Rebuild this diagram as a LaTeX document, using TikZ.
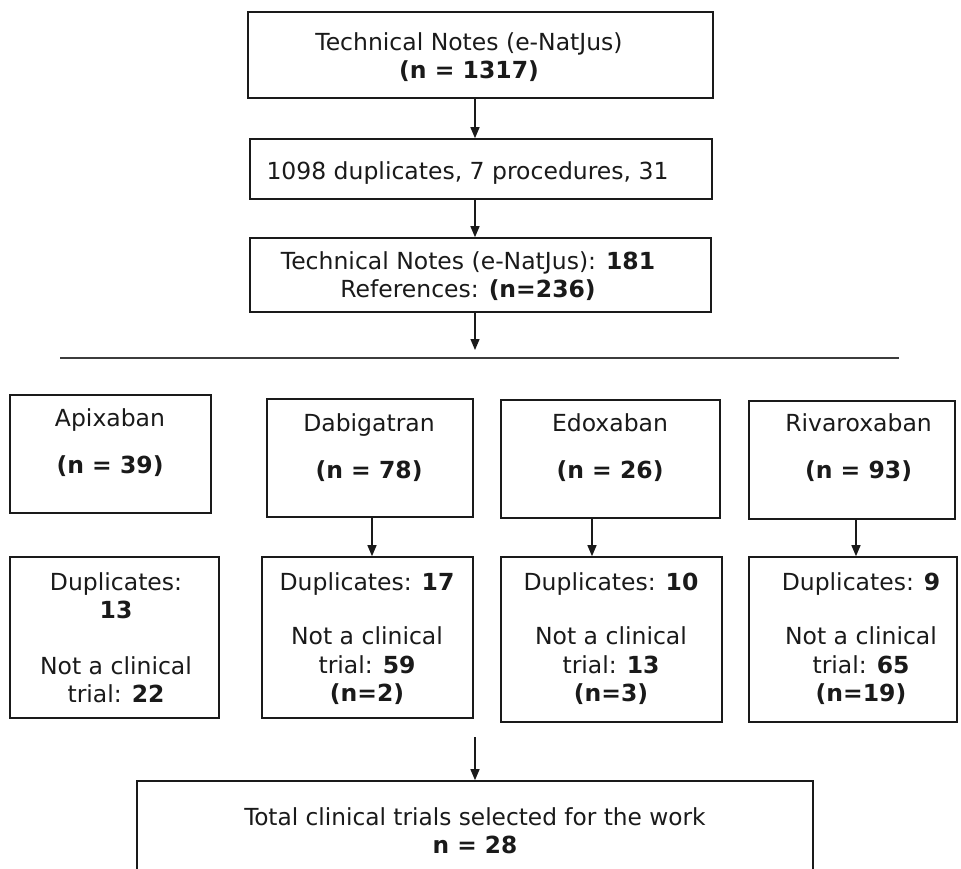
\documentclass[tikz,border=0pt]{standalone}
\usepackage{fontspec}
\setmainfont{DejaVu Sans}
\newfontfamily\condfont[FakeStretch=1.1]{DejaVu Sans Condensed}
\usetikzlibrary{arrows.meta}
\definecolor{ink}{HTML}{1A1A1A}
\tikzset{
  box/.style={draw=ink, line width=1.6pt, rectangle, inner sep=0pt},
  txt/.style={inner sep=0pt, anchor=north, align=center, text=ink,
    font=\fontsize{23.5}{28.5}\selectfont},
  cond/.style={inner sep=0pt, anchor=north, align=center, text=ink,
    font=\condfont\fontsize{23.5}{28}\selectfont},
  arr/.style={draw=ink, line width=1.3pt, -{Triangle[length=11pt,width=9pt]}},
  rule/.style={draw=ink!85, line width=1.5pt}
}
\begin{document}
\begin{tikzpicture}[x=1pt,y=1pt]
\useasboundingbox[fill=white] (0,0) rectangle (961,-869);
% boxes
\node[box, minimum width=465pt, minimum height=86pt] (b1) at (480.5,-55) {};
\node[box, minimum width=462pt, minimum height=60pt] (b2) at (481,-169) {};
\node[box, minimum width=461pt, minimum height=74pt] (b3) at (480.5,-275) {};
\node[box, minimum width=201pt, minimum height=118pt] (apx) at (110.5,-454) {};
\node[box, minimum width=206pt, minimum height=118pt] (dab) at (370,-458) {};
\node[box, minimum width=219pt, minimum height=118pt] (edo) at (610.5,-459) {};
\node[box, minimum width=206pt, minimum height=118pt] (riv) at (852,-460) {};
\node[box, minimum width=209pt, minimum height=161pt] (apxL) at (114.5,-637.5) {};
\node[box, minimum width=211pt, minimum height=161pt] (dabL) at (367.5,-637.5) {};
\node[box, minimum width=221pt, minimum height=165pt] (edoL) at (611.5,-639.5) {};
\node[box, minimum width=208pt, minimum height=165pt] (rivL) at (853,-639.5) {};
\node[box, minimum width=676pt, minimum height=119pt] (tot) at (475,-840.5) {};
% texts
\node[txt] (t1) at (469,-32) {Technical Notes (e-NatJus)\\\textbf{(n = 1317)}};
\node[txt] (t2) at (467.5,-161) {1098 duplicates, 7 procedures, 31};
\node[txt] (t3) at (468,-251) {Technical Notes (e-NatJus): \textbf{181}\\References: \textbf{(n=236)}};
\node[txt] (apxT) at (110,-408) {Apixaban\\[19pt]\textbf{(n = 39)}};
\node[txt] (dabT) at (369,-413) {Dabigatran\\[19pt]\textbf{(n = 78)}};
\node[txt] (edoT) at (610,-413) {Edoxaban\\[19pt]\textbf{(n = 26)}};
\node[txt] (rivT) at (858.5,-413) {Rivaroxaban\\[19pt]\textbf{(n = 93)}};
\node[txt] (apxLT) at (116,-572) {Duplicates:\\\textbf{13}\\[27pt]Not a clinical\\trial: \textbf{22}};
\node[txt] (dabLT) at (367,-572) {Duplicates: \textbf{17}\\[26pt]Not a clinical\\trial: \textbf{59}\\\textbf{(n=2)}};
\node[txt] (edoLT) at (611,-572) {Duplicates: \textbf{10}\\[26pt]Not a clinical\\trial: \textbf{13}\\\textbf{(n=3)}};
\node[txt] (rivLT) at (861,-572) {Duplicates: \textbf{9}\\[26pt]Not a clinical\\trial: \textbf{65}\\\textbf{(n=19)}};
\node[cond] (totT) at (475,-807) {Total clinical trials selected for the work\\\textbf{n = 28}};
% coordinates
\coordinate (xa) at (475,0);
\coordinate (xd) at (372,0);
\coordinate (xe) at (592,0);
\coordinate (xr) at (856,0);
\coordinate (a3e) at (475,-350);
\coordinate (hrL) at (60,-358);
\coordinate (hrR) at (899,-358);
\coordinate (a4s) at (475,-737);
% connectors
\draw[arr] (b1.south -| xa) -- (b2.north -| xa);
\draw[arr] (b2.south -| xa) -- (b3.north -| xa);
\draw[arr] (b3.south -| xa) -- (a3e);
\draw[rule] (hrL) -- (hrR);
\draw[arr] (dab.south -| xd) -- (dabL.north -| xd);
\draw[arr] (edo.south -| xe) -- (edoL.north -| xe);
\draw[arr] (riv.south -| xr) -- (rivL.north -| xr);
\draw[arr] (a4s) -- (tot.north -| xa);
\end{tikzpicture}
\end{document}
